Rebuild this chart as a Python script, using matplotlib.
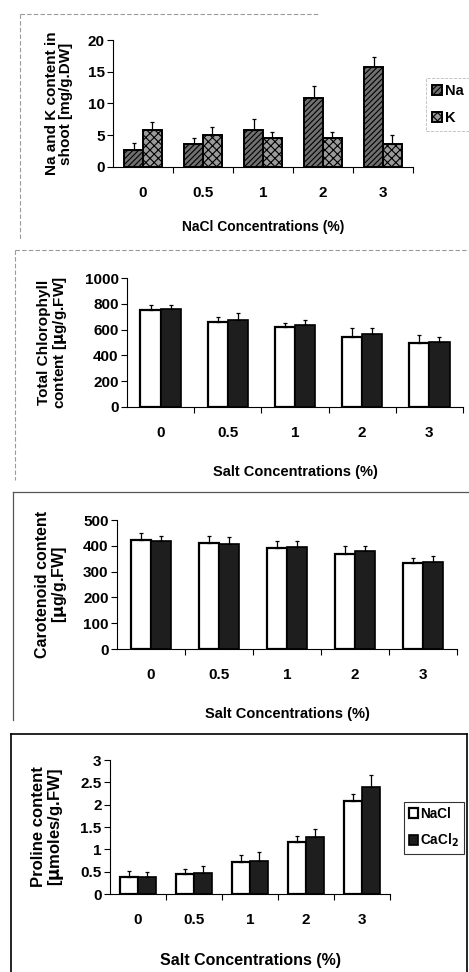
import matplotlib
matplotlib.use("Agg")
import matplotlib.pyplot as plt
import numpy as np
from matplotlib.lines import Line2D

plt.rcParams['font.family'] = ['Liberation Sans', 'DejaVu Sans']
plt.rcParams['font.weight'] = 'bold'
plt.rcParams['hatch.linewidth'] = 0.8

categories = ['0', '0.5', '1', '2', '3']

# Panel 1: Na and K in shoot
na_vals = [2.6, 3.6, 5.9, 10.9, 15.8]
na_err = [1.2, 0.9, 1.6, 1.8, 1.5]
k_vals = [5.9, 5.0, 4.6, 4.5, 3.7]
k_err = [1.2, 1.3, 0.9, 1.0, 1.3]

# Panel 2: chlorophyll
chl_nacl = [753, 657, 618, 545, 499]
chl_nacl_err = [39, 39, 37, 65, 59]
chl_cacl = [761, 675, 636, 564, 506]
chl_cacl_err = [31, 57, 39, 46, 39]

# Panel 3: carotenoid
car_nacl = [423, 410, 390, 368, 332]
car_nacl_err = [25, 28, 29, 33, 20]
car_cacl = [419, 407, 397, 378, 339]
car_cacl_err = [20, 26, 22, 21, 22]

# Panel 4: proline
pro_nacl = [0.39, 0.45, 0.72, 1.17, 2.08]
pro_nacl_err = [0.13, 0.11, 0.15, 0.13, 0.16]
pro_cacl = [0.37, 0.48, 0.75, 1.27, 2.40]
pro_cacl_err = [0.13, 0.15, 0.18, 0.19, 0.26]

W, H = 469, 972
fig = plt.figure(figsize=(W / 100, H / 100), dpi=100)
fig.patch.set_facecolor('white')


def ax_at(l, t, r, b):
    return fig.add_axes([l / W, 1 - b / H, (r - l) / W, (b - t) / H])


def style(ax, ylim, yticks, xlabel, ylabel, ylab_x, xl_y, xl_size, yl_size):
    n = len(categories)
    ax.set_xlim(-0.5, n - 0.5)
    ax.set_ylim(*ylim)
    ax.set_yticks(yticks)
    ax.set_yticklabels([f'{v:g}' for v in yticks], fontsize=11, fontweight='bold')
    ax.set_xticks(range(n))
    ax.set_xticklabels(categories, fontsize=11, fontweight='bold')
    ax.set_xticks(np.arange(0.5, n, 1.0), minor=True)
    ax.tick_params(axis='x', which='major', length=0, pad=14)
    ax.tick_params(axis='x', which='minor', length=4, direction='out', width=0.8)
    ax.tick_params(axis='y', length=4, direction='out', width=0.8, pad=2)
    for s in ['top', 'right']:
        ax.spines[s].set_visible(False)
    ax.spines['left'].set_linewidth(0.8)
    ax.spines['bottom'].set_linewidth(0.8)
    ax.set_xlabel(xlabel, fontsize=xl_size, fontweight='bold')
    ax.set_ylabel(ylabel, fontsize=yl_size, fontweight='bold', linespacing=1.0)
    ax.yaxis.set_label_coords(ylab_x, 0.5)
    ax.xaxis.set_label_coords(0.5, xl_y)


def pair(ax, v1, e1, v2, e2, w, kw1, kw2):
    x = np.arange(len(categories))
    ek = dict(elinewidth=0.9, capsize=1.5, capthick=0.9, ecolor='black')
    b1 = ax.bar(x - w / 2, v1, w, yerr=[[0] * len(e1), e1], error_kw=ek, **kw1)
    b2 = ax.bar(x + w / 2, v2, w, yerr=[[0] * len(e2), e2], error_kw=ek, **kw2)
    return b1, b2


# ---- Panel 1
ax1 = ax_at(113, 40, 413, 167)
b1, b2 = pair(ax1, na_vals, na_err, k_vals, k_err, 0.31,
              dict(facecolor='#707070', edgecolor='black', linewidth=1.4, hatch='//////'),
              dict(facecolor='#9a9a9a', edgecolor='black', linewidth=1.4, hatch='xxxx'))
style(ax1, (0, 20), [0, 5, 10, 15, 20],
      'NaCl Concentrations (%)', 'Na and K content in\nshoot [mg/g.DW]', -0.133, -0.42, 10, 11)
leg1 = ax1.legend([b1, b2], ['Na', 'K'], loc='upper left',
                  bbox_to_anchor=(426 / W, 1 - 78 / H), bbox_transform=fig.transFigure,
                  borderaxespad=0, frameon=True, handlelength=0.7, handleheight=0.7,
                  handletextpad=0.2, labelspacing=0.9, borderpad=0.4, fancybox=False,
                  prop=dict(weight='bold', size=10.5))
leg1.get_frame().set_edgecolor('#aaaaaa')
leg1.get_frame().set_linewidth(0.6)
leg1.get_frame().set_linestyle('--')

# ---- Panel 2
ax2 = ax_at(127, 278, 463, 407)
pair(ax2, chl_nacl, chl_nacl_err, chl_cacl, chl_cacl_err, 0.3,
     dict(facecolor='white', edgecolor='black', linewidth=1.6),
     dict(facecolor='#1e1e1e', edgecolor='black', linewidth=1.2))
style(ax2, (0, 1000), [0, 200, 400, 600, 800, 1000],
      'Salt Concentrations (%)', 'Total Chlorophyll\ncontent [$\\mathbf{\\mu}$g/g.FW]', -0.173, -0.45, 10.5, 11)

# ---- Panel 3
ax3 = ax_at(117, 520, 457, 649)
pair(ax3, car_nacl, car_nacl_err, car_cacl, car_cacl_err, 0.3,
     dict(facecolor='white', edgecolor='black', linewidth=1.6),
     dict(facecolor='#1e1e1e', edgecolor='black', linewidth=1.2))
style(ax3, (0, 500), [0, 100, 200, 300, 400, 500],
      'Salt Concentrations (%)', 'Carotenoid content\n[$\\mathbf{\\mu}$g/g.FW]', -0.141, -0.45, 10.5, 11.5)

# ---- Panel 4
ax4 = ax_at(110, 760, 390, 894)
b3, b4 = pair(ax4, pro_nacl, pro_nacl_err, pro_cacl, pro_cacl_err, 0.315,
              dict(facecolor='white', edgecolor='black', linewidth=1.6),
              dict(facecolor='#1e1e1e', edgecolor='black', linewidth=1.2))
style(ax4, (0, 3), [0, 0.5, 1, 1.5, 2, 2.5, 3],
      'Salt Concentrations (%)', 'Proline content\n[$\\mathbf{\\mu}$moles/g.FW]', -0.157, -0.44, 11.5, 12)
leg4 = ax4.legend([b3, b4], ['NaCl', 'CaCl$_\\mathbf{2}$'], loc='upper left',
                  bbox_to_anchor=(404 / W, 1 - 802 / H), bbox_transform=fig.transFigure,
                  borderaxespad=0, frameon=True, handlelength=0.7, handleheight=0.7,
                  handletextpad=0.15, labelspacing=0.8, borderpad=0.35, fancybox=False,
                  prop=dict(weight='bold', size=9.8))
leg4.get_frame().set_edgecolor('black')
leg4.get_frame().set_linewidth(0.8)

# ---- panel frames (scan borders)
def fline(x0, y0, x1, y1, **kw):
    fig.add_artist(Line2D([x0 / W, x1 / W], [1 - y0 / H, 1 - y1 / H],
                          transform=fig.transFigure, **kw))

grey = dict(color='#9a9a9a', linewidth=0.8, linestyle=(0, (4, 2)))
fline(20, 14, 320, 14, **grey)
fline(20, 14, 20, 240, **grey)
fline(15, 250, 469, 250, **grey)
fline(15, 250, 15, 480, **grey)
fline(13, 492, 469, 492, color='#555555', linewidth=0.9)
fline(13, 492, 13, 720, color='#555555', linewidth=0.9)
box = dict(color='black', linewidth=1.2)
fline(11, 734, 467, 734, **box)
fline(11, 734, 11, 972, **box)
fline(467, 734, 467, 972, **box)

fig.savefig('out.png', dpi=100, facecolor='white')
